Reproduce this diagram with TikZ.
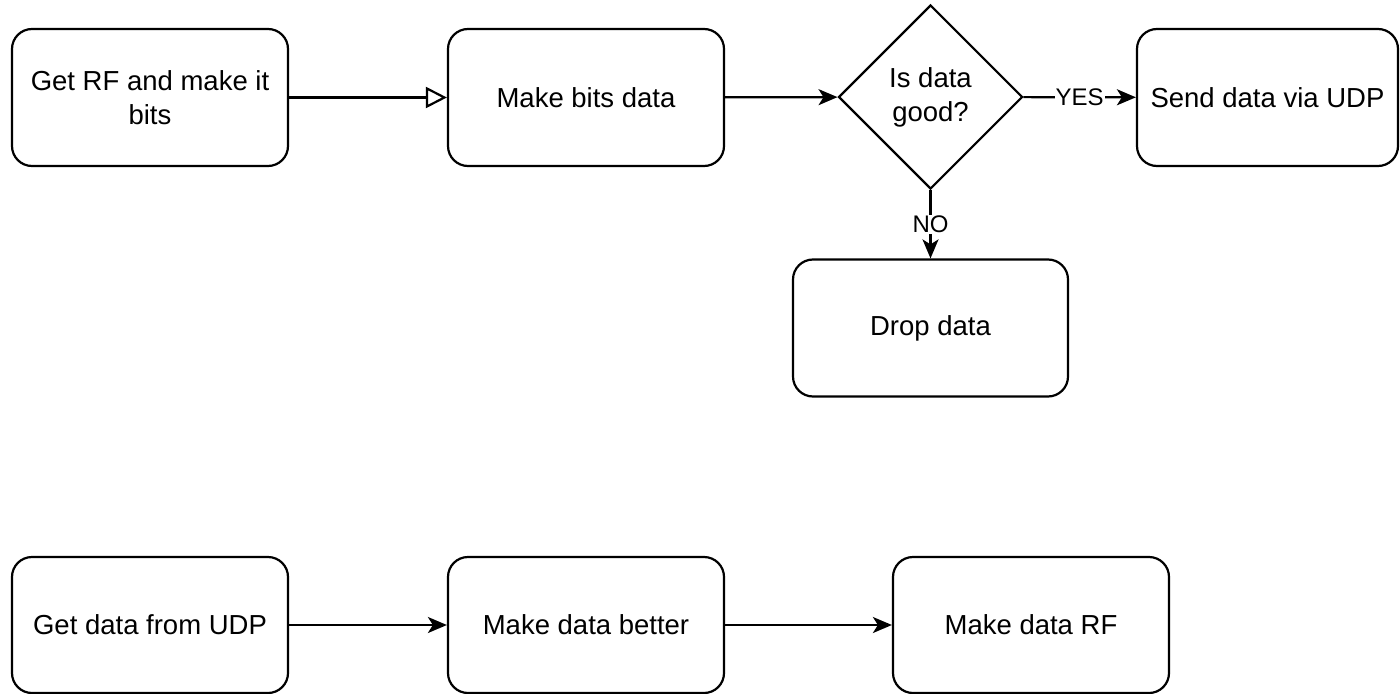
\documentclass[tikz,border=0pt]{standalone}
\usepackage{fontspec}
\setmainfont{Liberation Sans}
\usetikzlibrary{arrows.meta,shapes.geometric}

\begin{document}
\begin{tikzpicture}[
  x=1bp, y=-1bp,
  act/.style={rectangle, draw, rounded corners=20bp, align=center, minimum width=276bp, minimum height=137bp, inner sep=0pt},
  lbl/.style={fill=white, inner sep=1bp, font=\fontsize{24bp}{28bp}\selectfont},
  line width=2.2bp,
  font=\fontsize{27.5bp}{34bp}\selectfont,
  >={Stealth[length=19bp,width=16bp,inset=5bp]}
]
\useasboundingbox (0,0) rectangle (1400,694);
\node[act] (getrf) at (150,97.5) {Get RF and make it\\bits};
\node[act] (mkbits) at (586,97.5) {Make bits data};
\node[diamond, draw, aspect=1, minimum width=184bp, minimum height=184bp, inner sep=0pt, align=center] (check) at (930.5,97) {Is data\\good?};
\node[act, minimum width=261bp] (send) at (1267.5,97.5) {Send data via UDP};
\node[act, minimum width=275bp] (drop) at (930.5,328) {Drop data};
\node[act, minimum height=136bp] (getudp) at (150,625) {Get data from UDP};
\node[act, minimum height=136bp] (better) at (586,625) {Make data better};
\node[act, minimum height=136bp] (mkrf) at (1031,625) {Make data RF};

\draw[-{Triangle[open,length=21bp,width=21bp]}] (getrf) -- (mkbits);
\draw[->] (mkbits) -- (check);
\draw[->] (check) -- node[lbl] {YES} (send);
\draw[->] (check) -- node[lbl] {NO} (drop);
\draw[->] (getudp) -- (better);
\draw[->] (better) -- (mkrf);
\end{tikzpicture}
\end{document}
